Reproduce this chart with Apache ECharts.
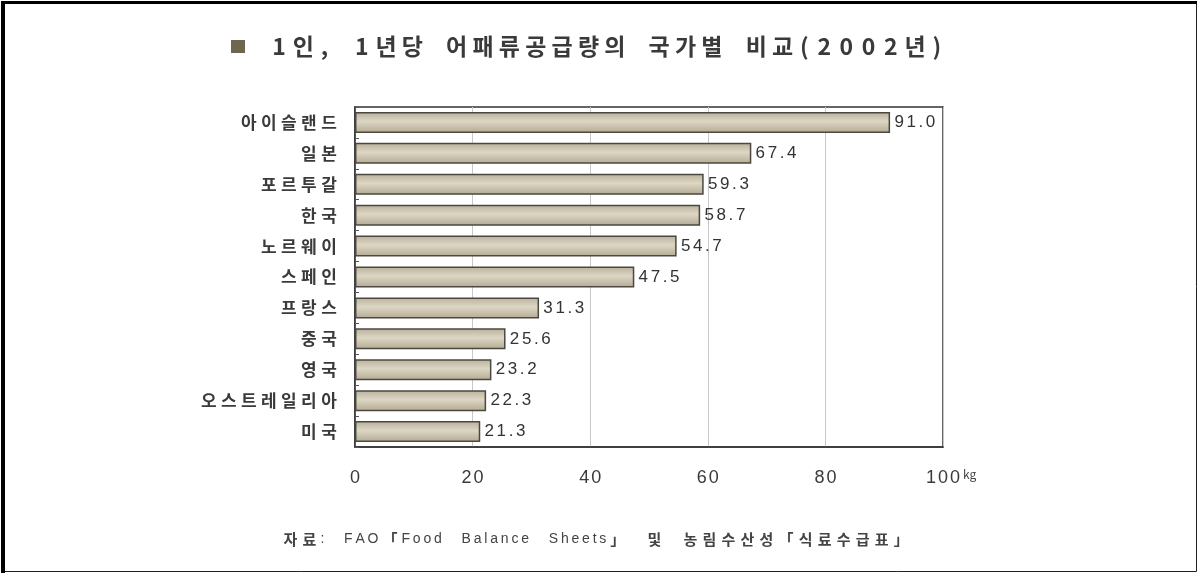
<!DOCTYPE html>
<html>
<head>
<meta charset="utf-8">
<script src="https://cdn.jsdelivr.net/npm/echarts@6/dist/echarts.min.js"></script>
<style>
html,body{margin:0;padding:0;background:#fff;}
#chart{width:1198px;height:574px;}
</style>
</head>
<body>
<div id="chart"></div>
<script>
const titleText = '1인, 1년당 어패류공급량의 국가별 비교(2002년)';
const sourceText = '자료: FAO「Food Balance Sheets」 및 농림수산성「식료수급표」';
const unitText = 'kg';
const countries = ['아이슬랜드','일본','포르투갈','한국','노르웨이','스페인','프랑스','중국','영국','오스트레일리아','미국'];
const values = [91.0, 67.4, 59.3, 58.7, 54.7, 47.5, 31.3, 25.6, 23.2, 22.3, 21.3];
const xTicks = [0, 20, 40, 60, 80, 100];

// wrap each character in a rich-text token: Korean/CJK -> tag+'k', ASCII -> tag+'a', space -> tag+'s'
function spaced(str, tag) {
  return Array.from(String(str)).map(ch => {
    if (ch === ' ') return '{' + tag + 's|\u00a0}';
    const t = ch.charCodeAt(0) < 128 ? 'a' : 'k';
    return '{' + tag + t + '|' + ch + '}';
  }).join('');
}

const FONT = '"Noto Sans CJK KR", "Noto Sans", sans-serif';
const LAT = '"Liberation Sans", Arial, sans-serif';
const chart = echarts.init(document.getElementById('chart'));
chart.setOption({
  backgroundColor: '#ffffff',
  animation: false,
  title: [{
    text: '{sq|}{gap|}' + spaced(titleText, 't'),
    left: 226,
    top: 30,
    textStyle: {
      rich: {
        sq: { width: 14, height: 13, backgroundColor: '#6f6650' },
        gap: { width: 23 },
        tk: { fontSize: 23, fontFamily: FONT, fontWeight: 'bold', color: '#3a3a3a', padding: [0, 2.6, 0, 2.6] },
        ta: { fontSize: 23, fontFamily: FONT, fontWeight: 'bold', color: '#3a3a3a', padding: [0, 4.3, 0, 4.3] },
        ts: { fontSize: 23, fontFamily: FONT, width: 18 }
      }
    }
  }, {
    text: spaced(sourceText, 's'),
    left: 276,
    top: 527,
    textStyle: {
      rich: {
        sk: { fontSize: 15, fontFamily: FONT, fontWeight: 'bold', color: '#444', padding: [0, 2.6, 0, 2.6] },
        sa: { fontSize: 14, fontFamily: LAT, fontWeight: 'normal', color: '#444', padding: [0, 1.4, 0, 1.4] },
        ss: { fontSize: 15, fontFamily: FONT, width: 17 }
      }
    }
  }],
  grid: {
    left: 355, right: 255, top: 107, bottom: 127,
    show: true, borderColor: '#333', borderWidth: 1.5, backgroundColor: 'transparent'
  },
  xAxis: {
    type: 'value', min: 0, max: 100, interval: 20,
    axisLine: { show: true, lineStyle: { color: '#333', width: 1.5 } },
    axisTick: { show: false },
    splitLine: { show: true, lineStyle: { color: '#c8c8c8', width: 1 } },
    axisLabel: {
      margin: 22,
      formatter: v => xTicks.includes(v) ? spaced(v, 'x') : '',
      rich: { xa: { fontSize: 18, fontFamily: LAT, color: '#3a3a3a', padding: [0, 1, 0, 1] } }
    }
  },
  yAxis: {
    type: 'category', data: countries, inverse: true,
    axisLine: { show: true, lineStyle: { color: '#333', width: 1.5 } },
    axisTick: { show: true, inside: true, length: 4, lineStyle: { color: '#555' } },
    splitLine: { show: false },
    axisLabel: {
      margin: 16,
      formatter: v => spaced(v, 'y'),
      rich: { yk: { fontSize: 17, fontFamily: FONT, fontWeight: 'bold', color: '#3a3a3a', padding: [0, 2.2, 0, 2.2] } }
    }
  },
  series: [{
    type: 'bar',
    data: values,
    barCategoryGap: '32%',
    itemStyle: {
      color: new echarts.graphic.LinearGradient(0, 0, 0, 1, [
        { offset: 0, color: '#b8b09a' },
        { offset: 0.45, color: '#dcd6c4' },
        { offset: 1, color: '#b3aa92' }
      ]),
      borderColor: '#4a4840', borderWidth: 1.5
    },
    label: {
      show: true, position: 'right', distance: 3,
      formatter: p => spaced(p.value.toFixed(1), 'v'),
      rich: { va: { fontSize: 17, fontFamily: LAT, color: '#333', padding: [0, 1.3, 0, 1.3] } }
    }
  }],
  graphic: [{
    type: 'rect', silent: true,
    shape: { x: 1.5, y: 1.5, width: 1195, height: 570 },
    style: { fill: 'none', stroke: '#222', lineWidth: 1 }
  }, {
    type: 'rect', silent: true,
    shape: { x: 1, y: 1, width: 4, height: 572 },
    style: { fill: '#000' }
  }, {
    type: 'rect', silent: true,
    shape: { x: 1, y: 1, width: 1196, height: 3 },
    style: { fill: '#000' }
  }]
});

// unit label placed next to the last tick label, positioned via the axis scale
const endPt = chart.convertToPixel({ xAxisIndex: 0, yAxisIndex: 0 }, [100, countries[countries.length - 1]]);
const gridRect = chart.getModel().getComponent('grid').coordinateSystem.getRect();
chart.setOption({
  graphic: [{}, {}, {}, {
    type: 'text', silent: true,
    x: endPt[0] + 20, y: gridRect.y + gridRect.height + 27,
    style: { text: unitText, fontSize: 12, fill: '#444', fontFamily: FONT, verticalAlign: 'middle' }
  }]
});
</script>
</body>
</html>
